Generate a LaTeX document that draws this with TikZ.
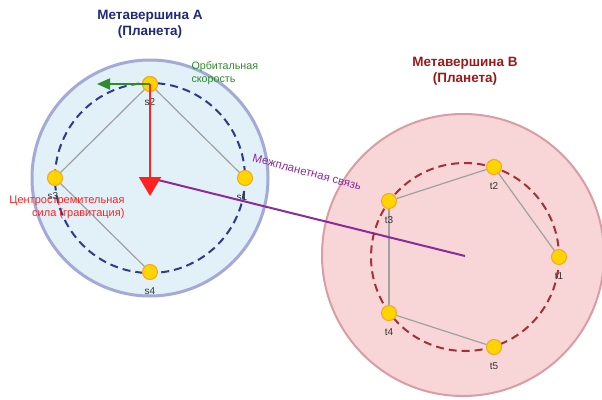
\documentclass[tikz,border=0pt]{standalone}
\usepackage{fontspec}
\setmainfont{Liberation Sans}
\usetikzlibrary{arrows.meta}
\definecolor{afill}{HTML}{E2F0F7}
\definecolor{aborder}{HTML}{A3AAD8}
\definecolor{aorbit}{HTML}{2E3A8C}
\definecolor{bfill}{HTML}{F8D5D6}
\definecolor{bborder}{HTML}{D89DA5}
\definecolor{borbit}{HTML}{A33238}
\definecolor{nodefill}{HTML}{FFD500}
\definecolor{nodeedge}{HTML}{F5A623}
\definecolor{titleA}{HTML}{1F2A7A}
\definecolor{titleB}{HTML}{9A1A1A}
\definecolor{velgreen}{HTML}{2E8B2E}
\definecolor{forcered}{HTML}{FF2222}
\definecolor{linkpurple}{HTML}{8B2A9B}
\definecolor{edgegray}{HTML}{A0A0A0}
\tikzset{
  sat/.style={circle, fill=nodefill, draw=nodeedge, line width=1pt, minimum size=15pt, inner sep=0pt},
  lbl/.style={font=\fontsize{10}{11}\selectfont, text=black!80, inner sep=1pt},
  ttl/.style={font=\fontsize{13.5}{16}\selectfont\bfseries, align=center},
  edg/.style={draw=edgegray, line width=1.2pt},
}
\begin{document}
\begin{tikzpicture}[x=1pt, y=-1pt]
\useasboundingbox (0,0) rectangle (602,399);
% planet A
\fill[afill] (150,178) circle (118);
\draw[aborder, line width=3pt] (150,178) circle (118);
\draw[aorbit, line width=2pt, dash pattern=on 8pt off 5pt] (150,178) circle (95);
% planet B
\fill[bfill] (463,255) circle (141);
\draw[bborder, line width=2pt] (463,255) circle (141);
\draw[borbit, line width=2pt, dash pattern=on 8pt off 5pt] (465,257) circle (94);
% centres
\coordinate (ca) at (150,178);
\coordinate (cb) at (465,256);
% satellites A
\node[sat] (s1) at (245,178) {};
\node[sat] (s2) at (150,84) {};
\node[sat] (s3) at (55,178) {};
\node[sat] (s4) at (150,272) {};
% satellites B
\node[sat] (t1) at (559,257) {};
\node[sat] (t2) at (494,167) {};
\node[sat] (t3) at (389,201) {};
\node[sat] (t4) at (389,313) {};
\node[sat] (t5) at (494,347) {};
% edges
\draw[edg] (s3) -- (s2);
\draw[edg] (s2) -- (s1);
\draw[edg] (s3) -- (s4);
\draw[edg] (t3) -- (t2);
\draw[edg] (t2) -- (t1);
\draw[edg] (t3) -- (t4);
\draw[edg] (t4) -- (t5);
% labels
\node[lbl] at (242,197) {s1};
\node[lbl] at (150,102) {s2};
\node[lbl] at (53,196) {s3};
\node[lbl] at (150,291) {s4};
\node[lbl] at (559,276) {t1};
\node[lbl] at (494,186) {t2};
\node[lbl] at (389,220) {t3};
\node[lbl] at (389,332) {t4};
\node[lbl] at (494,366) {t5};
% interplanetary link
\draw[linkpurple, line width=2pt] (ca) -- (cb);
\node[text=linkpurple, font=\fontsize{11.5}{13}\selectfont, rotate=-15] (linklbl) at (307,172) {Межпланетная связь};
% velocity
\coordinate (vend) at (97,84);
\draw[velgreen, line width=2pt, -{Triangle[length=13pt, width=11pt]}] (s2.center) -- (vend);
% force
\coordinate (fend) at (150,196);
\draw[forcered, line width=2pt, -{Triangle[length=19pt, width=22pt]}] (s2.center) -- (fend);
\node[sat] at (s2) {};
\draw[velgreen, line width=2pt] (s2.center) -- (140,84);
\draw[forcered, line width=2pt] (s2.center) -- (150,95);
% texts
\node[ttl, text=titleA] (ta) at (150,24) {Метавершина A\\(Планета)};
\node[ttl, text=titleB] (tb) at (465,71) {Метавершина B\\(Планета)};
\node[text=velgreen, font=\fontsize{10.7}{13}\selectfont, align=left, anchor=west] (vl) at (188,73) {Орбитальная\\скорость};
\node[text=forcered, font=\fontsize{11}{13}\selectfont, align=right, anchor=east] (fl) at (128,207) {Центростремительная\\сила (гравитация)};
\end{tikzpicture}
\end{document}
